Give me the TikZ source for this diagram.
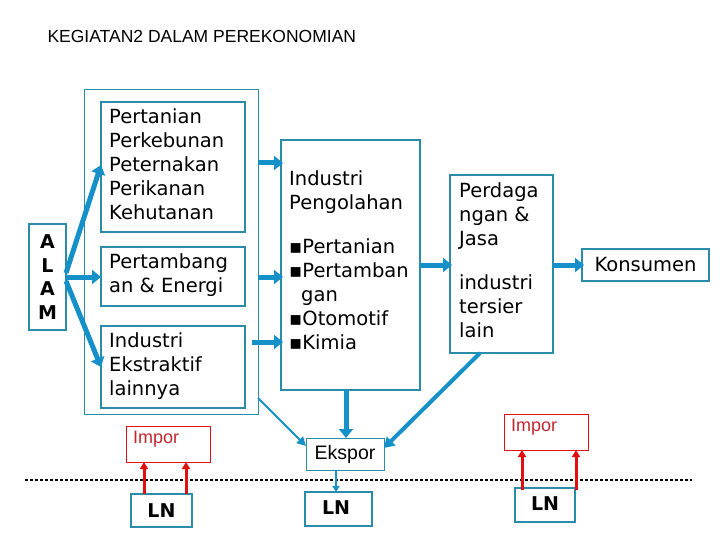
\documentclass[tikz,border=0pt]{standalone}
\usepackage{fontspec}
\setmainfont{DejaVu Sans}
\newfontfamily\arialf{Liberation Sans}
\usetikzlibrary{arrows.meta}
\definecolor{bx}{HTML}{2B8CAA}
\definecolor{ar}{HTML}{1590C8}
\definecolor{rd}{HTML}{E01010}
\definecolor{rt}{HTML}{C0272D}
\begin{document}
\begin{tikzpicture}[x=1pt,y=-1pt,
  bbox/.style={draw=bx,line width=1.5pt,inner sep=0pt},
  txt/.style={anchor=north west,align=left,font=\fontsize{19.5}{24}\selectfont,inner sep=0pt},
  big/.style={draw=ar,line width=5pt,-{Triangle[length=9pt,width=14pt]}},
  red/.style={draw=rd,line width=3pt,-{Triangle[length=7pt,width=8pt]}}]
\useasboundingbox (0,0) rectangle (720,540);
\node[anchor=west,font=\arialf\fontsize{17.5}{20}\selectfont] (title) at (44,36) {KEGIATAN2 DALAM PEREKONOMIAN};
% boxes
\draw[draw=bx,line width=1pt] (84,90) rectangle (258,414);
\draw[bbox] (101,102) rectangle (245,232);
\draw[bbox] (101,247) rectangle (245,306);
\draw[bbox] (101,326) rectangle (245,408);
\node[txt] (t1) at (109,108) {Pertanian\\Perkebunan\\Peternakan\\Perikanan\\Kehutanan};
\node[txt] (t2) at (109,253) {Pertambang\\an \& Energi};
\node[txt] (t3) at (109,332) {Industri\\Ekstraktif\\lainnya};
\draw[bbox] (29,224) rectangle (66,330);
\node[align=center,font=\bfseries\fontsize{19}{23.5}\selectfont] (alam) at (47.5,277) {A\\L\\A\\M};
\draw[bbox] (281,140) rectangle (420,390);
\node[txt] (ti) at (289,170) {Industri\\Pengolahan\\[20pt]▪Pertanian\\▪Pertamban\\\hspace*{12pt}gan\\▪Otomotif\\▪Kimia};
\draw[bbox] (450,175) rectangle (553,353);
\node[txt] (tp) at (459,182) {Perdaga\\ngan \&\\Jasa\\[20pt]industri\\tersier\\lain};
\draw[bbox] (582,249) rectangle (709,281);
\node[font=\fontsize{19.5}{24}\selectfont] (kons) at (645.5,265) {Konsumen};
\draw[draw=bx,line width=1pt] (306,438) rectangle (384,470);
\node[font=\arialf\fontsize{19.5}{22}\selectfont] (eks) at (345,454) {Ekspor};
\draw[draw=rd,line width=0.8pt] (126,426) rectangle (210,462);
\node[anchor=north west,text=rt,font=\arialf\fontsize{18}{20}\selectfont,inner sep=0pt] (imp1) at (133,431) {Impor};
\draw[draw=rd,line width=0.8pt] (504,414) rectangle (588,450);
\node[anchor=north west,text=rt,font=\arialf\fontsize{18}{20}\selectfont,inner sep=0pt] (imp2) at (511,419) {Impor};
\draw[bbox] (131,494) rectangle (192,527);
\node[font=\bfseries\fontsize{19}{22}\selectfont] (ln1) at (161.5,511) {LN};
\draw[bbox] (305,492) rectangle (372,526);
\node[font=\bfseries\fontsize{19}{22}\selectfont] (ln2) at (336,508) {LN};
\draw[bbox] (515,488) rectangle (575,522);
\node[font=\bfseries\fontsize{19}{22}\selectfont] (ln3) at (545,504) {LN};
\draw[line width=2.5pt,dash pattern=on 2.5pt off 2.5pt] (25,480) -- (692,480);
% arrows
\path[big] (66,273) -- (101,165);
\path[big] (66,277) -- (101,277);
\path[big] (66,281) -- (101,367);
\path[big] (258,163) -- (283,163);
\path[big] (258,277) -- (283,277);
\path[big] (252,342) -- (283,342);
\path[big] (420,265) -- (452,265);
\path[big] (553,265) -- (584,265);
\path[big] (346,390) -- (346,438);
\path[draw=ar,line width=2pt,-{Triangle[length=9pt,width=9pt]}] (258,398) -- (306,446);
\path[draw=ar,line width=4pt,-{Triangle[length=10pt,width=12pt]}] (480,353) -- (384,448);
\path[draw=ar,line width=2pt,-{Triangle[length=6pt,width=7pt]}] (336,470) -- (336,492);
\path[red] (144,494) -- (144,462);
\path[red] (186,494) -- (186,462);
\path[red] (522,490) -- (522,450);
\path[red] (576,490) -- (576,450);
\end{tikzpicture}
\end{document}
